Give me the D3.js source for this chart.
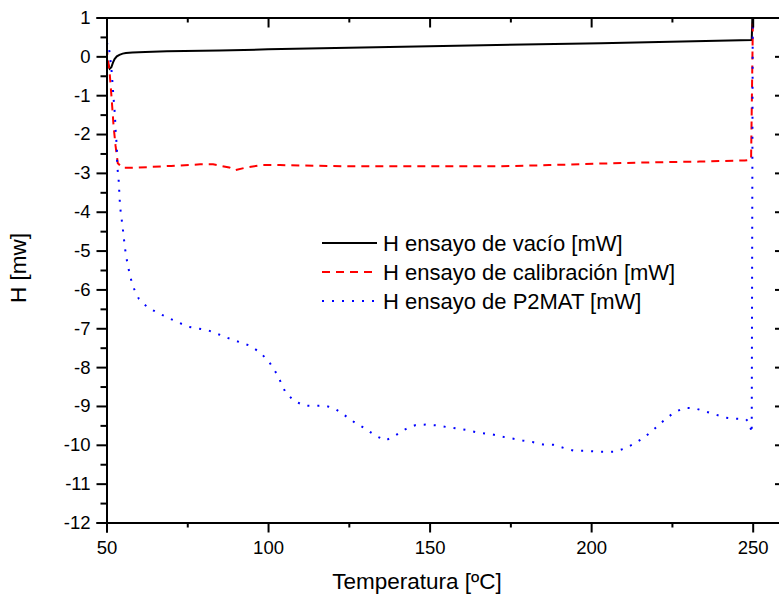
<!DOCTYPE html>
<html><head><meta charset="utf-8">
<script src="https://cdn.jsdelivr.net/npm/d3@7"></script>
<style>body{margin:0;background:#fff}svg{display:block}</style>
</head><body><svg id="c" width="779" height="596"></svg>
<script>
const vacioT=[50,50.5,51,51.5,52,52.5,53.2,54,55,56,58,62,68.7,85,100,150,203,249.7,250,250.2];
const vacioH=[-0.02,-0.2,-0.32,-0.28,-0.16,-0.07,0.0,0.04,0.07,0.085,0.1,0.115,0.13,0.15,0.18,0.26,0.34,0.42,1.3,1.5];
const calibT=[50,50.5,51,51.6,52.2,52.8,53.5,55,57,63,70,79,83,88,89.8,92.8,98,103.7,110,125,141,156,171,187,203,218,233.6,247.5,249.5,250,250.1];
const calibH=[0.25,-0.1,-0.45,-1.1,-1.8,-2.3,-2.75,-2.87,-2.87,-2.85,-2.82,-2.78,-2.78,-2.86,-2.93,-2.87,-2.8,-2.8,-2.81,-2.83,-2.83,-2.83,-2.83,-2.8,-2.76,-2.73,-2.71,-2.68,-2.66,0.5,1.5];
const p2matT=[50,50.5,51,51.5,51.9,52.1,52.6,52.9,53.2,53.3,53.7,54.2,55,55.7,56.5,57.5,58.5,60,62.8,69,75.2,81.4,87.9,94.4,97.5,100.3,102.3,103.9,105.4,108.1,111.2,114.5,117.6,120.7,123.7,126.9,130,133.2,136.3,139.4,142.5,145.7,148.9,152,155.1,158.4,161.5,164.6,169.3,172.4,175.7,178.8,181.9,185.1,188.3,191.5,194.6,197.7,200.8,204,207.1,210.2,213.4,216.6,219.7,222.7,225.8,228.9,232.1,235.3,238.5,241.6,244.8,247.9,249,249.7,250,250.1];
const p2matH=[0.3,0.35,0.07,-0.3,-0.73,-0.99,-1.5,-2.04,-2.3,-2.83,-3.09,-3.87,-4.4,-4.93,-5.35,-5.72,-5.98,-6.24,-6.47,-6.73,-6.96,-7.05,-7.26,-7.45,-7.62,-7.86,-8.12,-8.38,-8.65,-8.87,-8.99,-9.0,-8.99,-9.07,-9.24,-9.43,-9.58,-9.76,-9.89,-9.76,-9.6,-9.49,-9.48,-9.5,-9.54,-9.58,-9.62,-9.68,-9.73,-9.79,-9.84,-9.89,-9.93,-9.99,-10.0,-10.08,-10.15,-10.15,-10.17,-10.18,-10.18,-10.1,-9.97,-9.8,-9.58,-9.36,-9.16,-9.05,-9.06,-9.14,-9.22,-9.3,-9.33,-9.34,-9.43,-9.7,0.5,1.5];
const xTicks=[50,100,150,200,250];
const yTicks=[1,0,-1,-2,-3,-4,-5,-6,-7,-8,-9,-10,-11,-12];
const seriesNames=["H ensayo de vacío [mW]","H ensayo de calibración [mW]","H ensayo de P2MAT [mW]"];
const xTitle="Temperatura [ºC]", yTitle="H [mw]";

const FONT="'Liberation Sans', Arial, sans-serif";
const svg=d3.select("#c");
const L=106.5,R=785,T=17.5,B=522.5;
const x=d3.scaleLinear().domain([50,260]).range([L,R]);
const y=d3.scaleLinear().domain([-12,1]).range([B,T]);
svg.append("defs").append("clipPath").attr("id","clip").append("rect").attr("x",L).attr("y",T).attr("width",R-L).attr("height",B-T);

const styles=[{c:"#000",d:null},{c:"#ff0000",d:"8,6"},{c:"#0000ff",d:"2,8"}];
const data=[[vacioT,vacioH],[calibT,calibH],[p2matT,p2matH]];
const line=d3.line().x(d=>x(d[0])).y(d=>y(d[1]));
const g=svg.append("g").attr("clip-path","url(#clip)");
data.forEach((s,i)=>{
  const pts=s[0].map((t,k)=>[t,s[1][k]]);
  g.append("path").datum(pts).attr("d",line).attr("fill","none")
   .attr("stroke",styles[i].c).attr("stroke-width",2).attr("stroke-dasharray",styles[i].d);
});

const fmt=d=>String(d);
const minorX=d3.range(75,260,50), minorY=d3.range(-11.5,1,1);
const fs="18.5px";
const ax=svg.append("g").attr("transform",`translate(0,${B})`).call(d3.axisBottom(x).tickValues(xTicks).tickSize(10).tickPadding(8).tickFormat(fmt));
ax.append("g").call(d3.axisBottom(x).tickValues(minorX).tickSize(5).tickFormat(""));
const at=svg.append("g").attr("transform",`translate(0,${T})`).call(d3.axisBottom(x).tickValues(xTicks).tickSize(10).tickFormat(""));
at.append("g").call(d3.axisBottom(x).tickValues(minorX).tickSize(5).tickFormat(""));
const al=svg.append("g").attr("transform",`translate(${L},0)`).call(d3.axisLeft(y).tickValues(yTicks).tickSize(10).tickPadding(6).tickFormat(fmt));
al.append("g").call(d3.axisLeft(y).tickValues(minorY).tickSize(6).tickFormat(""));
const ar=svg.append("g").attr("transform",`translate(${R},0)`).call(d3.axisLeft(y).tickValues(yTicks).tickSize(10).tickFormat(""));
ar.append("g").call(d3.axisLeft(y).tickValues(minorY).tickSize(5).tickFormat(""));
svg.selectAll(".domain").attr("stroke","#000").attr("stroke-width",2);
svg.selectAll(".tick line").attr("stroke","#000").attr("stroke-width",2);
svg.selectAll(".tick text").attr("fill","#000").style("font-size",fs).style("font-family",FONT);
svg.append("text").attr("x",417).attr("y",589).attr("text-anchor","middle").style("font-size","22.5px").style("font-family",FONT).text(xTitle);
svg.append("text").attr("transform","translate(26,268) rotate(-90)").attr("text-anchor","middle").style("font-size","22.5px").style("font-family",FONT).text(yTitle);
const ly=[243,272,301];
seriesNames.forEach((n,i)=>{
  svg.append("line").attr("x1",322).attr("x2",377).attr("y1",ly[i]).attr("y2",ly[i])
    .attr("stroke",styles[i].c).attr("stroke-width",2).attr("stroke-dasharray",styles[i].d);
  svg.append("text").attr("x",383).attr("y",ly[i]+8).style("font-size","22px").style("font-family",FONT).text(n);
});
</script></body></html>
